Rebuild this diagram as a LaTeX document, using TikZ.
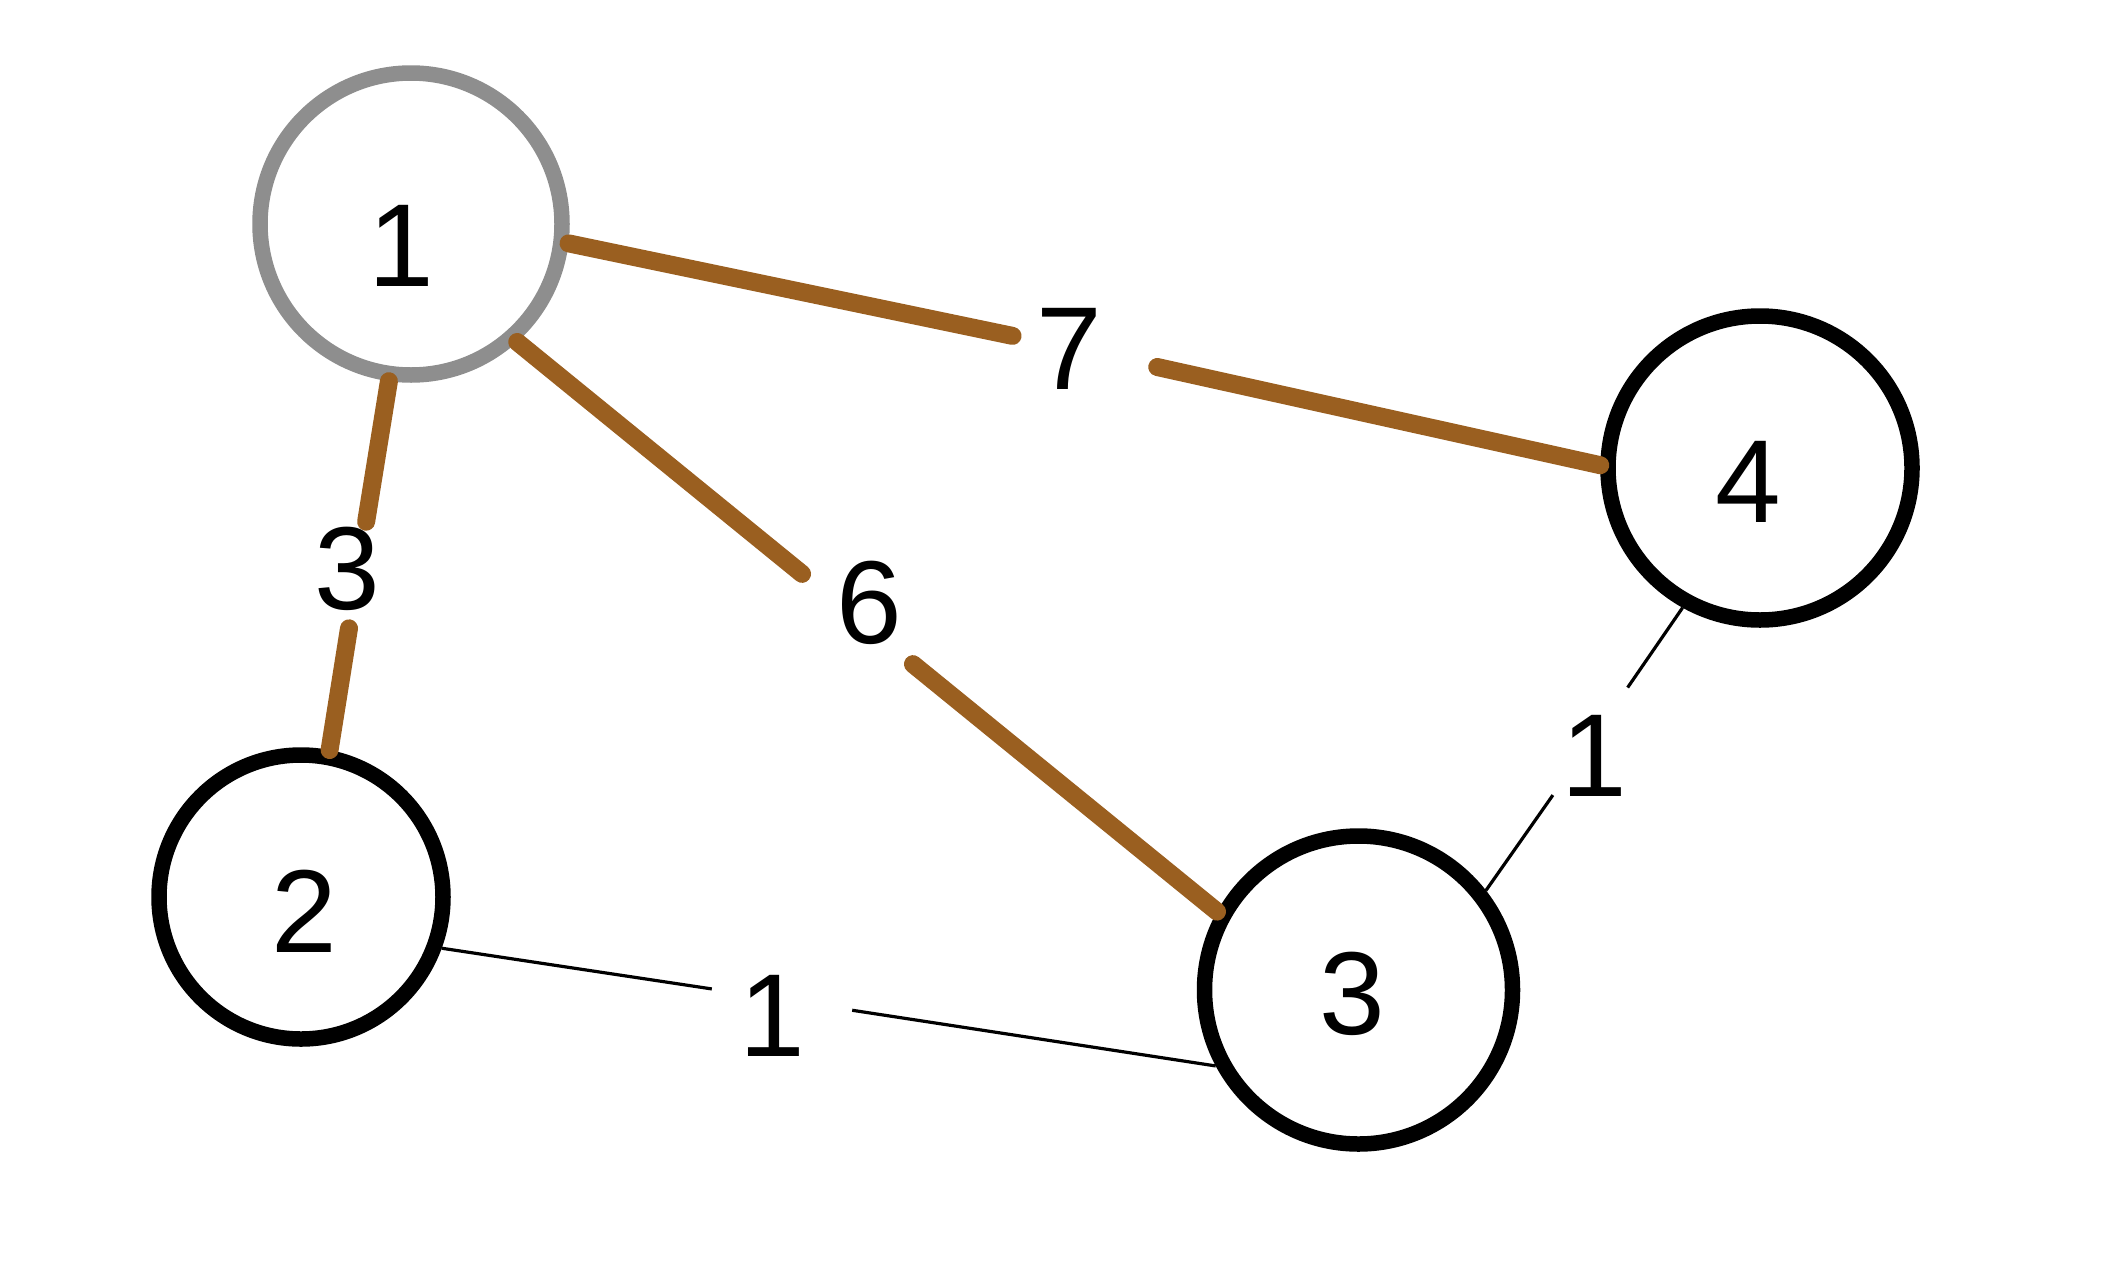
\documentclass[tikz,border=0pt]{standalone}
\usepackage{fontspec}
\setmainfont{Liberation Sans}
\definecolor{edgebrown}{HTML}{9A5F20}
\definecolor{ringgray}{HTML}{8E8E8E}
\begin{document}
\begin{tikzpicture}[x=1pt,y=-1pt,
  digits/.style={font=\fontsize{118}{120}\selectfont},
  vertex/.style={circle, draw=black, line width=15.5pt, inner sep=0pt, minimum size=#1},
  gap/.style={circle, inner sep=0pt, outer sep=0pt, minimum size=#1},
  heavy/.style={draw=edgebrown, line width=18pt, line cap=round},
  light/.style={draw=black, line width=3.2pt}]
\useasboundingbox (0,0) rectangle (2116,1282);
% vertices, with their numbers
\node[vertex=302pt, draw=ringgray,
  label={[name=t1, digits, xshift=-10pt, yshift=-22pt]center:1}] (n1) at (411,224) {};
\node[vertex=284pt,
  label={[name=t2, digits, xshift=3pt, yshift=-14pt]center:2}] (n2) at (301,897) {};
\node[vertex=308pt,
  label={[name=t3, digits, xshift=-6pt, yshift=-4pt]center:3}] (n3) at (1358.5,990) {};
\node[vertex=304pt,
  label={[name=t4, digits, xshift=-12pt, yshift=-14pt]center:4}] (n4) at (1760,468) {};
% weight labels (gaps in the edges)
\node[gap=148pt, label={[name=l7, digits, xshift=-16pt, yshift=2pt]center:7}] (w7) at (1085,351) {};
\node[gap=108pt, label={[name=l3, digits, xshift=-10pt, yshift=6pt]center:3}] (w3) at (357.5,575) {};
\node[gap=143pt, label={[name=l6, digits, xshift=12pt, yshift=16pt]center:6}] (w6) at (857.5,619) {};
\node[gap=131pt, label={[name=l1a, digits, xshift=4pt, yshift=-14pt]center:1}] (w1a) at (1590.5,741.5) {};
\node[gap=142pt, label={[name=l1b, digits, xshift=-10pt, yshift=-16pt]center:1}] (w1b) at (782,999.5) {};
% edges
\draw[heavy] (n1.-7) -- (w7);
\draw[heavy] (w7) -- (n4.179);
\draw[heavy] (n1.262) -- (w3);
\draw[heavy] (w3) -- (n2.79);
\draw[heavy] (n1.312) -- (w6);
\draw[heavy] (w6) -- (n3.151);
\draw[light] (n2.-20) -- (w1b);
\draw[light] (w1b) -- (n3.208);
\draw[light] (n4.241) -- (w1a);
\draw[light] (w1a) -- (n3.38);
\end{tikzpicture}
\end{document}
